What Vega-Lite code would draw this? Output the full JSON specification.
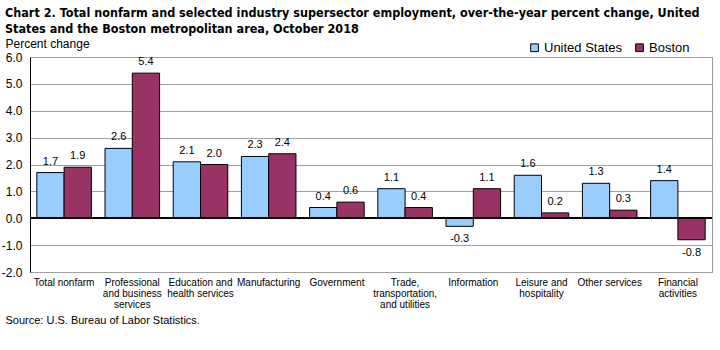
{
  "$schema": "https://vega.github.io/schema/vega-lite/v6.json",
  "width": 682,
  "height": 215,
  "autosize": {"type": "none"},
  "padding": {"left": 30, "top": 57, "right": 8, "bottom": 78},
  "background": "white",
  "title": {
    "text": ["Chart 2. Total nonfarm and selected industry supersector employment, over-the-year percent change, United", "States and the Boston metropolitan area, October 2018"],
    "anchor": "start",
    "frame": "group",
    "dx": -25,
    "offset": 2,
    "font": "DejaVu Sans Condensed, Liberation Sans",
    "fontSize": 12.5,
    "fontWeight": "bold",
    "lineHeight": 16,
    "color": "#000"
  },
  "config": {
    "font": "Liberation Sans",
    "view": {"stroke": "#999999"},
    "axis": {"labelColor": "#000", "titleColor": "#000"},
    "locale": {"number": {"decimal": ".", "thousands": ",", "grouping": [3], "currency": ["$", ""], "minus": "-"}}
  },
  "data": {
    "values": [
      {"industry": "Total nonfarm", "area": "United States", "value": 1.7},
      {"industry": "Total nonfarm", "area": "Boston", "value": 1.9},
      {"industry": "Professional|and business|services", "area": "United States", "value": 2.6},
      {"industry": "Professional|and business|services", "area": "Boston", "value": 5.4},
      {"industry": "Education and|health services", "area": "United States", "value": 2.1},
      {"industry": "Education and|health services", "area": "Boston", "value": 2.0},
      {"industry": "Manufacturing", "area": "United States", "value": 2.3},
      {"industry": "Manufacturing", "area": "Boston", "value": 2.4},
      {"industry": "Government", "area": "United States", "value": 0.4},
      {"industry": "Government", "area": "Boston", "value": 0.6},
      {"industry": "Trade,|transportation,|and utilities", "area": "United States", "value": 1.1},
      {"industry": "Trade,|transportation,|and utilities", "area": "Boston", "value": 0.4},
      {"industry": "Information", "area": "United States", "value": -0.3},
      {"industry": "Information", "area": "Boston", "value": 1.1},
      {"industry": "Leisure and|hospitality", "area": "United States", "value": 1.6},
      {"industry": "Leisure and|hospitality", "area": "Boston", "value": 0.2},
      {"industry": "Other services", "area": "United States", "value": 1.3},
      {"industry": "Other services", "area": "Boston", "value": 0.3},
      {"industry": "Financial|activities", "area": "United States", "value": 1.4},
      {"industry": "Financial|activities", "area": "Boston", "value": -0.8}
    ]
  },
  "encoding": {
    "x": {
      "field": "industry",
      "type": "nominal",
      "sort": null,
      "scale": {"paddingInner": 0.2, "paddingOuter": 0.1},
      "axis": {
        "labelAngle": 0,
        "labelExpr": "split(datum.value, '|')",
        "labelFontSize": 10,
        "labelLineHeight": 11,
        "labelPadding": 5,
        "labelBaseline": "top",
        "domain": false,
        "ticks": false,
        "title": "Source: U.S. Bureau of Labor Statistics.",
        "titleFontWeight": "normal",
        "titleFontSize": 11,
        "titleX": -25,
        "titleY": 48,
        "titleAlign": "left",
        "titleBaseline": "middle",
        "titleAnchor": "start"
      }
    },
    "xOffset": {
      "field": "area",
      "type": "nominal",
      "sort": ["United States", "Boston"],
      "scale": {"paddingInner": 0, "paddingOuter": 0}
    },
    "y": {
      "field": "value",
      "type": "quantitative",
      "scale": {"domain": [-2, 6], "nice": false, "zero": false},
      "axis": {
        "values": [-2, -1, 0, 1, 2, 3, 4, 5, 6],
        "format": ".1f",
        "labelOverlap": false,
        "grid": true,
        "gridColor": "#a0a0a0",
        "domainColor": "#000",
        "ticks": false,
        "labelPadding": 8,
        "labelFontSize": 12,
        "title": "Percent change",
        "titleAngle": 0,
        "titleAlign": "left",
        "titleBaseline": "bottom",
        "titleX": -25,
        "titleY": -7,
        "titleFontWeight": "normal",
        "titleFontSize": 12
      }
    }
  },
  "layer": [
    {
      "mark": {"type": "bar", "stroke": "#000", "strokeWidth": 1},
      "encoding": {
        "color": {
          "field": "area",
          "type": "nominal",
          "scale": {"domain": ["United States", "Boston"], "range": ["#99ccff", "#993366"]},
          "legend": {
            "title": null,
            "orient": "none",
            "legendX": 498,
            "legendY": -16,
            "direction": "horizontal",
            "symbolType": "square",
            "symbolSize": 60,
            "symbolStrokeColor": "#000",
            "symbolStrokeWidth": 1,
            "labelFontSize": 13,
            "labelColor": "#000",
            "columnPadding": 10,
            "labelOffset": 3
          }
        }
      }
    },
    {
      "transform": [{"filter": "datum.value >= 0"}],
      "mark": {"type": "text", "baseline": "bottom", "dy": -6, "fontSize": 11, "color": "#000"},
      "encoding": {
        "text": {"field": "value", "type": "quantitative", "format": ".1f"}
      }
    },
    {
      "transform": [{"filter": "datum.value < 0"}],
      "mark": {"type": "text", "baseline": "top", "dy": 7, "fontSize": 11, "color": "#000"},
      "encoding": {
        "text": {"field": "value", "type": "quantitative", "format": ".1f"}
      }
    },
    {
      "mark": {"type": "rule", "color": "#000", "strokeWidth": 1},
      "encoding": {"y": {"datum": 0}, "x": {"value": 0}, "x2": {"value": 682}, "xOffset": null}
    }
  ]
}
